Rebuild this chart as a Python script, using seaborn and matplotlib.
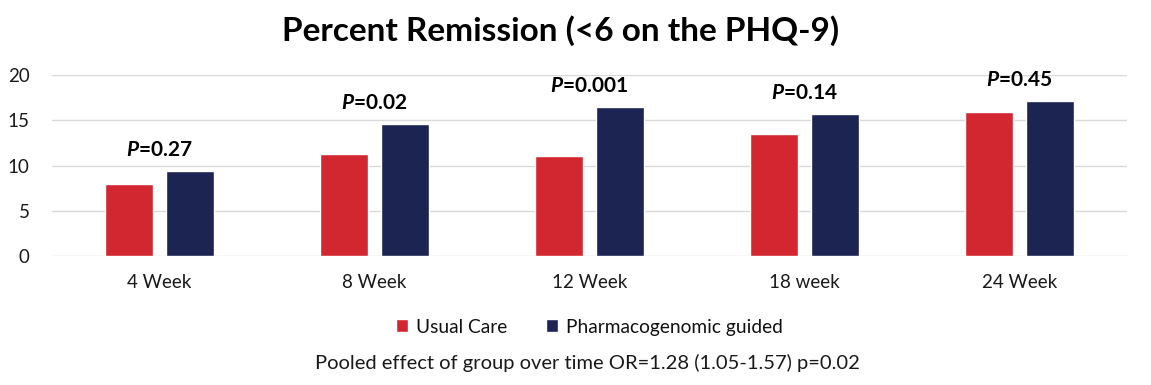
import pandas as pd
import numpy as np
import matplotlib.pyplot as plt
import seaborn as sns

# data
weeks = ["4 Week", "8 Week", "12 Week", "18 week", "24 Week"]
usual_care = [8.0, 11.3, 11.1, 13.5, 15.9]
pgx_guided = [9.4, 14.6, 16.5, 15.7, 17.1]
p_labels = ["0.27", "0.02", "0.001", "0.14", "0.45"]
groups = ["Usual Care", "Pharmacogenomic guided"]
colors = ["#D22730", "#1C2451"]

df = pd.DataFrame({
    "week": weeks * 2,
    "value": usual_care + pgx_guided,
    "group": [groups[0]] * len(weeks) + [groups[1]] * len(weeks),
})

sns.set_style("white")
plt.rcParams["font.family"] = ["Lato", "DejaVu Sans"]
plt.rcParams["text.color"] = "#111111"
plt.rcParams["mathtext.fontset"] = "custom"
plt.rcParams["mathtext.it"] = "Lato:italic:bold"
plt.rcParams["mathtext.rm"] = "Lato:bold"

fig = plt.figure(figsize=(11.51, 3.85), dpi=100)
ax = fig.add_axes([0.045, 0.335, 0.934, 0.47])

sns.barplot(data=df, x="week", y="value", hue="group", order=weeks,
            hue_order=groups, palette=colors, width=0.572, gap=0.22,
            saturation=1, ax=ax, legend=True)

ax.set_ylim(0, 20)
ax.set_yticks([0, 5, 10, 15, 20])
ax.set_xlim(-0.5, len(weeks) - 0.5)
ax.yaxis.grid(True, color="#d9d9d9", linewidth=1)
ax.set_axisbelow(True)
for s in ["top", "right", "left", "bottom"]:
    ax.spines[s].set_visible(False)
ax.tick_params(axis="both", length=0, labelsize=13.5, colors="#1a1a1a")
ax.tick_params(axis="x", pad=13)
ax.tick_params(axis="y", pad=16)
ax.set_xlabel("")
ax.set_ylabel("")

# p-value labels above each pair
for i, p in enumerate(p_labels):
    top = max(usual_care[i], pgx_guided[i])
    ax.annotate("$P$=" + p, xy=(i, top), xytext=(0, 8),
                textcoords="offset points", ha="center", va="bottom",
                fontsize=15, fontweight="bold", color="black")

ax.legend(loc="upper center", bbox_to_anchor=(0.5, -0.25), ncol=2,
          frameon=False, fontsize=13.8, handlelength=0.65, handleheight=0.65,
          handletextpad=0.4, columnspacing=2.0)

fig.suptitle("Percent Remission (<6 on the PHQ-9)", x=0.487, y=0.96,
             fontsize=24, fontweight="bold", color="black")
fig.text(0.51, 0.058, "Pooled effect of group over time OR=1.28 (1.05-1.57) p=0.02",
         ha="center", va="center", fontsize=14.5, color="#1a1a1a")

fig.savefig("out.png", dpi=100)
